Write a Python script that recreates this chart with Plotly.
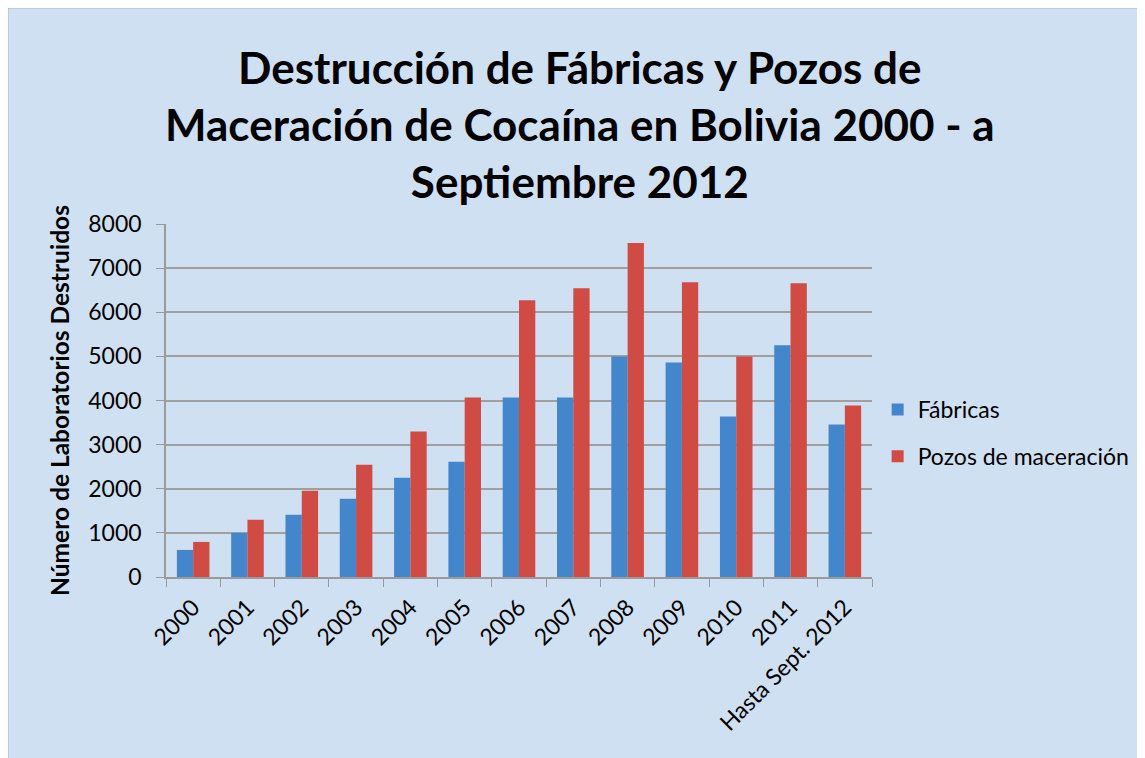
import plotly.graph_objects as go

categories = ["2000", "2001", "2002", "2003", "2004", "2005", "2006", "2007",
              "2008", "2009", "2010", "2011", "Hasta Sept. 2012"]
fabricas = [614, 1000, 1409, 1773, 2250, 2614, 4068, 4068, 5000, 4864, 3636, 5250, 3455]
pozos = [795, 1295, 1955, 2545, 3295, 4068, 6273, 6545, 7568, 6682, 5000, 6659, 3886]
y_ticks = [0, 1000, 2000, 3000, 4000, 5000, 6000, 7000, 8000]

FONT = "Lato"
BG = "#D0E0F3"
W, H = 1137, 750
L, T, PW, PH = 158, 216, 706, 353

fig = go.Figure()
fig.add_trace(go.Bar(x=categories, y=fabricas, name="Fábricas",
                     marker=dict(color="#4486CC", line=dict(width=0)),
                     legendgroup="a"))
fig.add_trace(go.Bar(x=categories, y=pozos, name="Pozos de maceración",
                     marker=dict(color="#CF4B44", line=dict(width=0)),
                     legendgroup="b"))

fig.update_layout(
    width=W, height=H,
    margin=dict(l=L, r=W - L - PW, t=T, b=H - T - PH, autoexpand=False),
    paper_bgcolor="white",
    plot_bgcolor="white",
    barmode="group",
    bargap=0.40,
    bargroupgap=0.0,
    font=dict(family=FONT, color="black", size=23),
    legend=dict(
        x=1.008, y=(T + PH - 425) / PH, xanchor="left", yanchor="middle",
        bgcolor="rgba(0,0,0,0)",
        font=dict(family=FONT, size=23),
        traceorder="grouped", tracegroupgap=14,
        itemwidth=30,
    ),
    annotations=[dict(
        text="Destrucción de Fábricas y Pozos de<br>Maceración de Cocaína en Bolivia 2000 - a<br>Septiembre 2012",
        xref="paper", yref="paper",
        x=(572 - L) / PW, y=(T + PH - 116) / PH,
        xanchor="center", yanchor="middle", showarrow=False,
        font=dict(family=FONT, size=44, color="black", weight="bold"),
    )],
    shapes=[dict(type="rect", xref="paper", yref="paper",
                 x0=(-0.5 - L) / PW, x1=(W + 5 - L) / PW,
                 y0=(T + PH - H - 5) / PH, y1=(T + PH + 0.5) / PH,
                 fillcolor=BG, line=dict(color="#8C8C8C", width=1.5),
                 layer="below")],
)

fig.update_yaxes(
    range=[0, 8000], tickvals=y_ticks,
    showgrid=True, gridcolor="#A0A0A0", gridwidth=1.5,
    showline=True, linecolor="#9A9A9A", linewidth=1.5,
    ticks="outside", ticklen=8, tickcolor="#9A9A9A", ticklabelstandoff=10,
    tickfont=dict(family=FONT, size=23),
    title=dict(text="Número de Laboratorios Destruidos",
               font=dict(family=FONT, size=24.5, weight="bold"), standoff=12),
    zeroline=False,
)
fig.update_xaxes(
    showline=True, linecolor="#9A9A9A", linewidth=1.5,
    ticks="outside", ticklen=8, tickcolor="#9A9A9A", tickson="boundaries",
    ticklabelstandoff=6,
    tickangle=-45, tickfont=dict(family=FONT, size=23),
)

fig.write_html("out.html")
